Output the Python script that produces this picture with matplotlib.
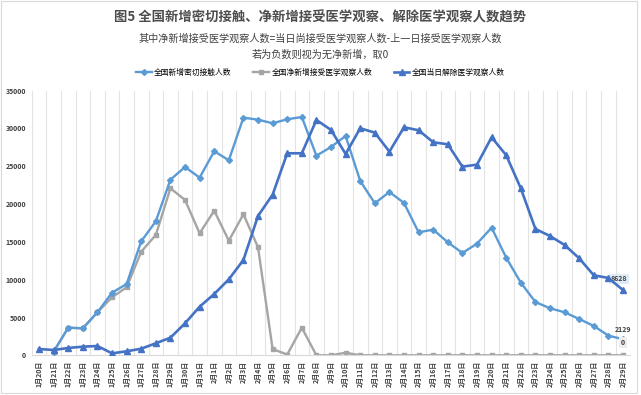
import matplotlib
matplotlib.use("Agg")
import matplotlib.pyplot as plt
import numpy as np

plt.rcParams['font.family'] = ['Noto Sans CJK SC', 'DejaVu Sans']

dates = [f"1月{d}日" for d in range(20, 32)] + [f"2月{d}日" for d in range(1, 30)]

# 全国新增密切接触人数
contacts = [np.nan, 480, 3650, 3570, 5690, 8280, 9430, 15080, 17720, 23230,
            24910, 23500, 26990, 25800, 31430, 31170, 30690, 31220, 31520, 26400,
            27560, 29010, 23060, 20110, 21600, 20150, 16270, 16620, 14950, 13530,
            14770, 16880, 12910, 9610, 7050, 6220, 5690, 4800, 3880, 2600, 2129]

# 全国净新增接受医学观察人数
net_new = [np.nan, 480, 3650, 3570, 5690, 7670, 9000, 13710, 15920, 22090,
           20550, 16140, 19130, 15160, 18650, 14290, 830, 100, 3650, 0,
           0, 340, 0, 0, 0, 0, 0, 0, 0, 0,
           0, 0, 0, 0, 0, 0, 0, 0, 0, 0, 0]

# 全国当日解除医学观察人数
released = [830, 700, 970, 1140, 1230, 260, 530, 870, 1590, 2330,
            4230, 6430, 8110, 10050, 12610, 18430, 21250, 26720, 26720, 31130,
            29810, 26630, 30030, 29450, 26940, 30160, 29770, 28180, 27910, 24950,
            25220, 28840, 26460, 22090, 16710, 15780, 14590, 12830, 10580, 10230, 8628]

c1, c2, c3 = "#5B9BD5", "#A5A5A5", "#4472C4"

fig = plt.figure(figsize=(6.41, 3.95), dpi=100)
ax = fig.add_axes([0.0495, 0.1005, 0.9338, 0.6699])
x = np.arange(len(dates))

for k in range(len(dates) + 1):
    ax.axvline(k - 0.5, color="#E3E3E3", lw=0.8, zorder=0)

ax.plot(x, contacts, color=c1, lw=1.7, marker="D", ms=3, label="全国新增密切接触人数", zorder=3)
ax.plot(x, net_new, color=c2, lw=1.7, marker="s", ms=3.5, label="全国净新增接受医学观察人数", zorder=2)
ax.plot(x, released, color=c3, lw=1.9, marker="^", ms=4, label="全国当日解除医学观察人数", zorder=4)

ax.set_xlim(-0.5, len(dates) - 0.5)
ax.set_ylim(0, 35000)
ax.set_yticks(range(0, 35001, 5000))
ax.set_yticklabels([str(v) for v in range(0, 35001, 5000)], fontsize=5, fontweight="bold", color="#404040")
ax.set_xticks(x)
ax.set_xticklabels(dates, rotation=90, fontsize=5, fontweight="bold", color="#404040")
ax.tick_params(length=0, pad=4)
for s in ["top", "right", "left"]:
    ax.spines[s].set_visible(False)
ax.spines["bottom"].set_color("#D9D9D9")

last = len(dates) - 1
ax.annotate(str(released[last]), (last, released[last]), xytext=(-3, 8), textcoords="offset points",
            ha="center", va="center", fontsize=5, fontweight="bold", color="#404040",
            bbox=dict(boxstyle="square,pad=0.25", fc="#DEEBF7", ec="none"))
ax.annotate(str(contacts[last]), (last, contacts[last]), xytext=(0, 7), textcoords="offset points",
            ha="center", va="center", fontsize=5, fontweight="bold", color="#404040")
ax.annotate(str(net_new[last]), (last, net_new[last]), xytext=(0, 9), textcoords="offset points",
            ha="center", va="center", fontsize=5, fontweight="bold", color="#404040",
            bbox=dict(boxstyle="square,pad=0.3", fc="#EDEDED", ec="none"))

fig.text(0.5, 0.955, "图5 全国新增密切接触、净新增接受医学观察、解除医学观察人数趋势",
         ha="center", va="center", fontsize=9.6, fontweight="bold", color="#4D4D4D")
fig.text(0.5, 0.903, "其中净新增接受医学观察人数=当日尚接受医学观察人数-上一日接受医学观察人数",
         ha="center", va="center", fontsize=7.3, color="#404040")
fig.text(0.5, 0.862, "若为负数则视为无净新增，取0",
         ha="center", va="center", fontsize=7.3, color="#404040")

fig.legend(loc="center", bbox_to_anchor=(0.5, 0.815), ncol=3, frameon=False,
           fontsize=5.6, handlelength=2.0, columnspacing=2.8, handletextpad=0.3)

fig.add_artist(plt.Rectangle((0.001, 0.006), 0.992, 0.992, transform=fig.transFigure,
                             fill=False, ec="#D9D9D9", lw=0.8))

fig.savefig("out.png", dpi=100)
